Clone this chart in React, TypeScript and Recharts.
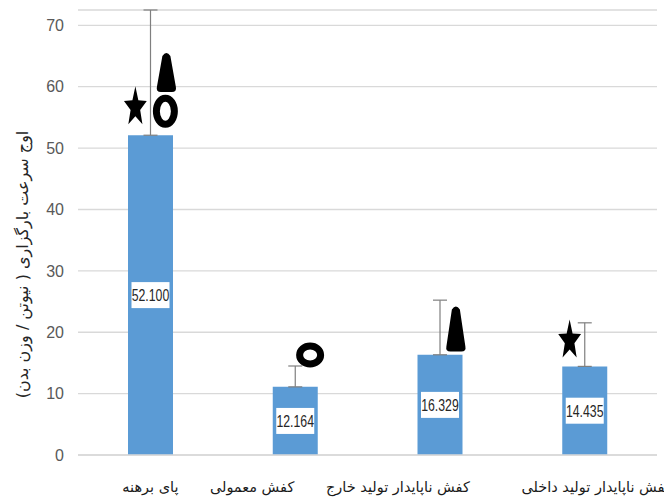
import React from 'react';
import { ComposedChart, Bar, XAxis, YAxis, CartesianGrid, ErrorBar, LabelList, Scatter } from 'recharts';

const categories = ['پای برهنه', 'کفش معمولی', 'کفش ناپایدار تولید خارج', 'کفش ناپایدار تولید داخلی'];
const values = [52.1, 11.1, 16.329, 14.435];
const valueLabels = ['52.100', '12.164', '16.329', '14.435'];
const errorPlus = [20.4, 3.4, 8.9, 7.1];
const starY = [56.8, null, null, 18.8];
const ringY = [56.0, 16.3, null, null];
const coneY = [62.4, null, 20.6, null];
const yTicks = [0, 10, 20, 30, 40, 50, 60, 70];
const yDomainMax = 72.5;
const yAxisTitle = 'اوج سرعت بارگزاری ( نیوتن / وزن بدن)';

const tickShift = [0, -43, -42, 12];

const data = categories.map((name, i) => ({
  name,
  value: values[i],
  label: valueLabels[i],
  err: [0, errorPlus[i]],
  star: starY[i],
  ring: ringY[i],
  cone: coneY[i],
}));

const StarShape = (props: any) => {
  if (props.payload == null || props.payload.star == null) return null;
  const cx = props.cx - 15;
  const cy = props.cy;
  const w = 12;
  const h = 21;
  const pts: string[] = [];
  for (let k = 0; k < 10; k++) {
    const a = -Math.PI / 2 + (k * Math.PI) / 5;
    const r = k % 2 === 0 ? 1 : 0.42;
    pts.push(`${cx + Math.cos(a) * r * w},${cy + 1 + Math.sin(a) * r * h}`);
  }
  return <polygon points={pts.join(' ')} fill="#000" />;
};

const RingShape = (props: any) => {
  if (props.payload == null || props.payload.ring == null) return null;
  const cx = props.cx + 15;
  const cy = props.cy;
  const tall = props.payload.name === categories[0];
  const rx = tall ? 9 : 10.5;
  const ry = tall ? 13 : 9;
  return <ellipse cx={cx} cy={cy} rx={rx} ry={ry} fill="none" stroke="#000" strokeWidth={7} />;
};

const ConeShape = (props: any) => {
  if (props.payload == null || props.payload.cone == null) return null;
  const cx = props.cx + 16;
  const cy = props.cy;
  const h = props.payload.name === categories[0] ? 40 : 46;
  const w = 19;
  const top = cy - h / 2;
  const bot = cy + h / 2;
  const d = `M ${cx - 4} ${top + 4} Q ${cx} ${top - 2} ${cx + 4} ${top + 4} L ${cx + w / 2} ${bot - 5} Q ${cx + w / 2 + 1} ${bot} ${cx + w / 2 - 4} ${bot} L ${cx - w / 2 + 4} ${bot} Q ${cx - w / 2 - 1} ${bot} ${cx - w / 2} ${bot - 5} Z`;
  return <path d={d} fill="#000" />;
};

const ValueBox = (props: any) => {
  const { x, y, width, height, index } = props;
  const cx = x + width / 2;
  const cy = y + height / 2;
  const bw = 38;
  const bh = 26;
  return (
    <g>
      <rect x={cx - bw / 2} y={cy - bh / 2} width={bw} height={bh} fill="#ffffff" />
      <text
        x={cx}
        y={cy}
        textAnchor="middle"
        dominantBaseline="central"
        fontFamily="'Liberation Sans', Arial, sans-serif"
        fontSize={15}
        fill="#262626"
        transform={`translate(${cx} ${cy}) scale(0.82 1.15) translate(${-cx} ${-cy})`}
      >
        {valueLabels[index]}
      </text>
    </g>
  );
};

const XTick = (props: any) => {
  const { x, y, payload } = props;
  const i = payload.index;
  return (
    <text
      x={x + tickShift[i]}
      y={y}
      dy={29}
      textAnchor="middle"
      fontFamily="'DejaVu Sans', sans-serif"
      fontSize={14.5}
      fill="#1a1a1a"
    >
      {payload.value}
    </text>
  );
};

export default function App() {
  return (
    <div style={{ position: 'absolute', left: 0, top: 0, width: 664, height: 502, background: '#fff' }}>
      <ComposedChart
        width={664}
        height={502}
        data={data}
        margin={{ top: 10, right: 7, bottom: 0, left: 0 }}
        barSize={45}
      >
        <CartesianGrid vertical={false} stroke="#d9d9d9" strokeWidth={1.3} />
        <XAxis
          dataKey="name"
          height={47}
          axisLine={{ stroke: '#d9d9d9', strokeWidth: 1.3 }}
          tickLine={false}
          tick={<XTick />}
          interval={0}
        />
        <YAxis
          width={78}
          domain={[0, yDomainMax]}
          ticks={yTicks}
          axisLine={false}
          tickLine={false}
          tickSize={0}
          tickMargin={14}
          tick={{ fill: '#595959', fontSize: 16, fontFamily: "'Liberation Sans', Arial, sans-serif" }}
          label={{
            value: yAxisTitle,
            angle: -90,
            position: 'insideLeft',
            offset: 0,
            dx: 22,
            dy: 32,
            style: { textAnchor: 'middle', fontFamily: "'DejaVu Sans', sans-serif", fontSize: 16, fill: '#262626' },
          }}
        />
        <Bar dataKey="value" fill="#5b9bd5" isAnimationActive={false}>
          <ErrorBar dataKey="err" width={7} stroke="#7f7f7f" strokeWidth={1.2} direction="y" />
          <LabelList dataKey="label" content={<ValueBox />} />
        </Bar>
        <Scatter dataKey="star" shape={<StarShape />} isAnimationActive={false} />
        <Scatter dataKey="ring" shape={<RingShape />} isAnimationActive={false} />
        <Scatter dataKey="cone" shape={<ConeShape />} isAnimationActive={false} />
      </ComposedChart>
    </div>
  );
}
